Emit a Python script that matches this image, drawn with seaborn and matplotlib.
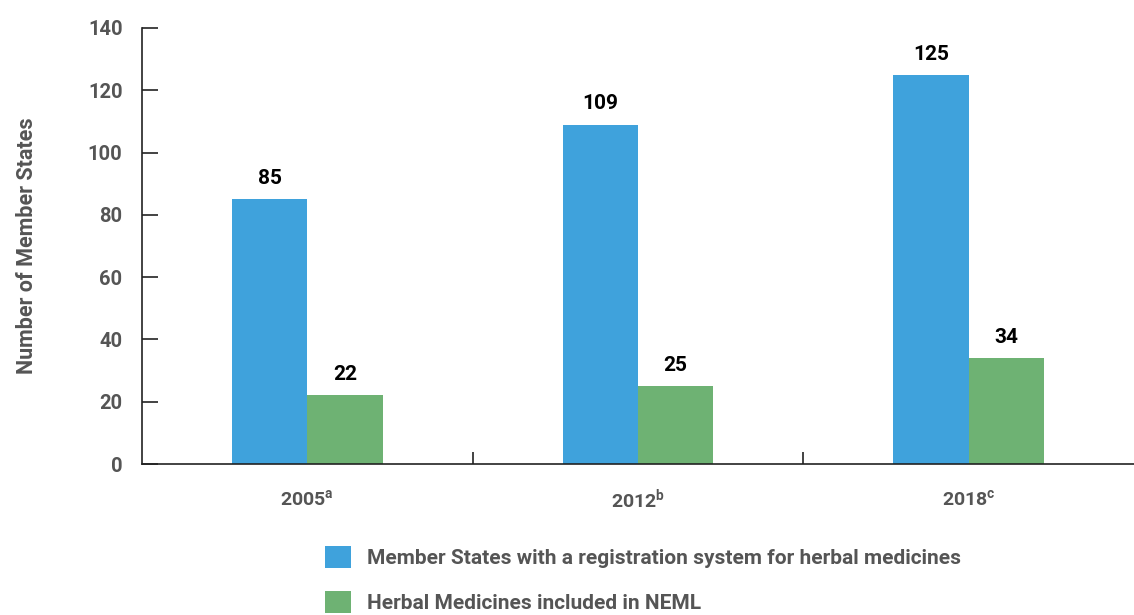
import matplotlib
matplotlib.use("Agg")
import matplotlib.pyplot as plt
import seaborn as sns
import pandas as pd
from matplotlib.patches import Patch
from matplotlib.ticker import FixedLocator

# ------------------------------------------------------------
# Data
# ------------------------------------------------------------
years = ["2005$^{\\mathregular{a}}$", "2012$^{\\mathregular{b}}$", "2018$^{\\mathregular{c}}$"]
registration = [85, 109, 125]
neml = [22, 25, 34]
series_names = ["Member States with a registration system for herbal medicines",
                "Herbal Medicines included in NEML"]
colors = ["#3FA2DC", "#6EB273"]

df = pd.DataFrame({
    "year": years * 2,
    "value": registration + neml,
    "series": [series_names[0]] * 3 + [series_names[1]] * 3,
})

sns.set_style("white")
plt.rcParams["font.family"] = ["Roboto", "DejaVu Sans"]
plt.rcParams["font.weight"] = "bold"
plt.rcParams["mathtext.default"] = "regular"

fig = plt.figure(figsize=(11.34, 6.15), dpi=100)
ax = fig.add_axes([0.1252, 0.2455, 0.8748, 0.709])

sns.barplot(data=df, x="year", y="value", hue="series", order=years,
            hue_order=series_names, palette=colors, width=0.456,
            saturation=1, legend=False, linewidth=0, ax=ax)

for cont in ax.containers:
    ax.bar_label(cont, padding=8, fontsize=15, fontweight="bold", color="black")

ax.set_xlim(-0.5, 2.5)
ax.set_ylim(0, 140)
ax.set_yticks(range(0, 141, 20))
ax.set_xlabel("")
ax.set_ylabel("Number of Member States", fontsize=15.5, fontweight="bold",
              color="#555555", labelpad=36)

for s in ["top", "right"]:
    ax.spines[s].set_visible(False)
for s in ["left", "bottom"]:
    ax.spines[s].set_color("#222222")
    ax.spines[s].set_linewidth(1.2)

ax.tick_params(axis="y", direction="in", length=11.5, width=1.2, color="#222222",
               labelsize=14.5, labelcolor="#555555", pad=14, left=True)
ax.tick_params(axis="x", which="major", length=0, labelsize=14,
               labelcolor="#555555", pad=18)
ax.xaxis.set_minor_locator(FixedLocator([0.5, 1.5]))
ax.tick_params(axis="x", which="minor", direction="in", length=9, width=1.2,
               color="#222222", bottom=True)

handles = [Patch(facecolor=c, edgecolor="none") for c in colors]
fig.legend(handles, series_names, loc="upper left", bbox_to_anchor=(0.2866, 0.113),
           frameon=False, fontsize=15, labelcolor="#555555", handlelength=1.25,
           handleheight=1.25, handletextpad=0.77, labelspacing=1.12, borderpad=0,
           borderaxespad=0)

fig.savefig("out.png", dpi=100)
